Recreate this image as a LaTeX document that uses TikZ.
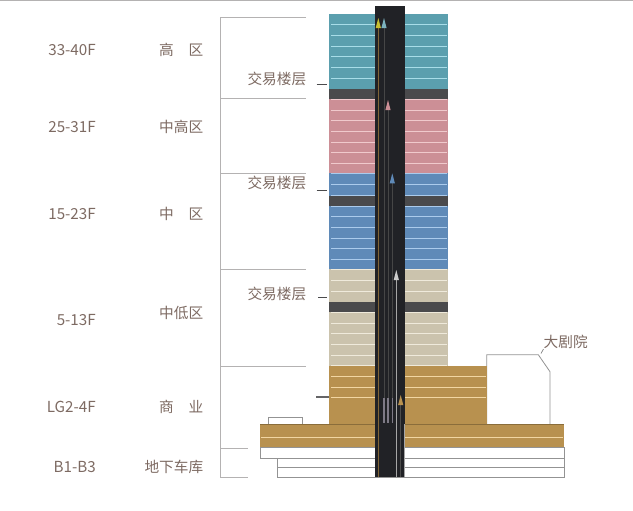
\documentclass[tikz,border=0pt]{standalone}
\usepackage{fontspec}
\setmainfont{Noto Sans CJK SC}
\definecolor{tealfloor}{HTML}{5B9FAE}
\definecolor{pinkfloor}{HTML}{CC8F96}
\definecolor{bluefloor}{HTML}{5F8AB8}
\definecolor{beigefloor}{HTML}{CBC3AD}
\definecolor{goldfloor}{HTML}{B8914F}
\definecolor{plantfloor}{HTML}{4A4A4C}
\definecolor{corefill}{HTML}{212226}
\definecolor{labeltext}{HTML}{7D6A62}
\definecolor{framegray}{HTML}{B4B2B2}
\definecolor{goldline}{HTML}{F2D6A2}
\definecolor{tealline}{HTML}{A8DDE8}
\definecolor{pinkline}{HTML}{F0C9CC}
\definecolor{blueline}{HTML}{ABCBEC}
\definecolor{beigeline}{HTML}{EFEADB}
\definecolor{shaftgray}{HTML}{7E7A86}
\tikzset{
  floorlabel/.style={anchor=east,inner sep=0pt,text=labeltext,font=\fontsize{11}{13}\selectfont},
  storeylabel/.style={floorlabel,font=\fontsize{11.4}{13}\selectfont},
  framerule/.style={draw=framegray,line width=0.75pt},
  outlinebox/.style={draw=gray!85,line width=0.6pt},
  shaftline/.style={line width=0.45pt},
}

\begin{document}
\begin{tikzpicture}[x=0.75pt,y=-0.75pt]
  \useasboundingbox (0,0) rectangle (633,511);
  \fill[framegray] (0,0) rectangle (633,1);
  % frame on the left
  \draw[framerule] (306,17.3) -- (220,17.3) -- (220,477.3) -- (248,477.3);
  \foreach \y in {98.7,173.3,269,366}
    \draw[framerule] (220,\y) -- (306,\y);
  \draw[framerule] (220,448) -- (248,448);
  % podium and basement
  \draw[outlinebox] (260,447.3) rectangle (564,458);
  \draw[outlinebox] (277.7,458) rectangle (564,477.3);
  \draw[outlinebox] (277.7,467.3) -- (564,467.3);
  \draw[outlinebox] (268.7,424) -- (268.7,417.3) -- (302,417.3) -- (302,424);
  \draw[outlinebox] (486.7,424) -- (486.7,354.7) -- (538.3,354.7) -- (550,371.7) -- (550,424);
  \fill[goldfloor] (260,424) rectangle (564,447.3);
  \draw[goldfloor!75!black,line width=0.5pt] (260,424) -- (564,424);
  \draw[goldline,line width=0.7pt] (261,437.3) -- (563,437.3);
  % tower floors
  \fill[tealfloor] (329.3,13.5) rectangle (448,88.5);
  \fill[plantfloor] (329.3,88.5) rectangle (448,98.5);
  \fill[pinkfloor] (329.3,98.5) rectangle (448,173.3);
  \fill[bluefloor] (329.3,173.3) rectangle (448,195.7);
  \fill[plantfloor] (329.3,195.7) rectangle (448,205.5);
  \fill[bluefloor] (329.3,205.5) rectangle (448,269);
  \fill[beigefloor] (329.3,269) rectangle (448,301.7);
  \fill[plantfloor] (329.3,301.7) rectangle (448,311.7);
  \fill[beigefloor] (329.3,311.7) rectangle (448,366);
  \fill[goldfloor] (329.3,366) rectangle (486.7,424);
  \foreach \y in {24.7,35.3,46,56.7,67.3,78}
    \draw[tealline,line width=0.7pt] (331,\y) -- (447,\y);
  \foreach \y in {99.3,110,120.7,131.3,142,152.7,163.3}
    \draw[pinkline,line width=0.7pt] (331,\y) -- (447,\y);
  \foreach \y in {173.6,184.3,195.3,206,216.7,227.3,238,248.7,259}
    \draw[blueline,line width=0.7pt] (331,\y) -- (447,\y);
  \foreach \y in {269.5,280.3,291,312.3,323.3,333.3,344.7,355.3,365.3}
    \draw[beigeline,line width=0.7pt] (331,\y) -- (447,\y);
  \foreach \y in {376.3,387,397.7}
    \draw[goldline,line width=0.7pt] (331,\y) -- (486,\y);
  % core with lift shafts
  \fill[corefill] (375,5.5) rectangle (405,477.3);
  \foreach \x/\ytip/\yend/\col/\shaft in {378.3/18/477.3/yellow!75!black/goldfloor!70!black,384/18/398/tealfloor!80!white/gray!55!black,388/100/398/pinkfloor/gray!55!black,392.3/173.3/398/bluefloor/gray!55!black,396.3/270/477.3/white!80!black/gray!70!white,400.7/395/477.3/goldfloor/gray!60!black}{
    \draw[shaftline,draw=\shaft] (\x,\ytip+9) -- (\x,\yend);
    \fill[\col] (\x,\ytip) -- (\x+2.6,\ytip+10) -- (\x-2.6,\ytip+10) -- cycle;
  }
  \foreach \x in {384,388,392.3}
    \draw[shaftgray,line width=0.8pt] (\x,398) -- (\x,423);
  \draw[shaftline,draw=gray!70!white] (404.3,424) -- (404.3,477.3);
  % ticks
  \coordinate (tradetickA) at (316.7,84.7);
  \coordinate (tradeendA) at (326.7,84.7);
  \coordinate (tradetickB) at (316.7,190);
  \coordinate (tradeendB) at (326.7,190);
  \coordinate (tradetickC) at (318,297.3);
  \coordinate (tradeendC) at (326.7,297.3);
  \coordinate (retailtick) at (316,397.3);
  \coordinate (retailend) at (329.3,397.3);
  \draw[plantfloor,line width=0.6pt] (tradetickA) -- (tradeendA);
  \draw[plantfloor,line width=0.6pt] (tradetickB) -- (tradeendB);
  \draw[plantfloor,line width=0.6pt] (tradetickC) -- (tradeendC);
  \draw[plantfloor!85!white,line width=1.5pt] (retailtick) -- (retailend);
  % labels
  \node[storeylabel] (floorsA) at (96,50) {33-40F};
  \node[storeylabel] (floorsB) at (96,126.7) {25-31F};
  \node[storeylabel] (floorsC) at (96,214) {15-23F};
  \node[storeylabel] (floorsD) at (96,320) {5-13F};
  \node[storeylabel] (floorsE) at (96,406.7) {LG2-4F};
  \node[storeylabel] (floorsF) at (96,466.7) {B1-B3};
  \node[floorlabel] (zoneA) at (203.5,50) {高　区};
  \node[floorlabel] (zoneB) at (203.5,126.7) {中高区};
  \node[floorlabel] (zoneC) at (203.5,214) {中　区};
  \node[floorlabel] (zoneD) at (203.5,313) {中低区};
  \node[floorlabel] (zoneE) at (203.5,406.7) {商　业};
  \node[floorlabel] (zoneF) at (203.5,466.7) {地下车库};
  \node[floorlabel] (tradeA) at (306.5,79.3) {交易楼层};
  \node[floorlabel] (tradeB) at (306.5,183.3) {交易楼层};
  \node[floorlabel] (tradeC) at (306.5,294) {交易楼层};
  \node[floorlabel] (theatre) at (588,342) {大剧院};
  \coordinate (theatreroof) at (541,353.5);
  \draw[gray,line width=0.5pt] (theatreroof) -- (theatre.south west);
\end{tikzpicture}
\end{document}
